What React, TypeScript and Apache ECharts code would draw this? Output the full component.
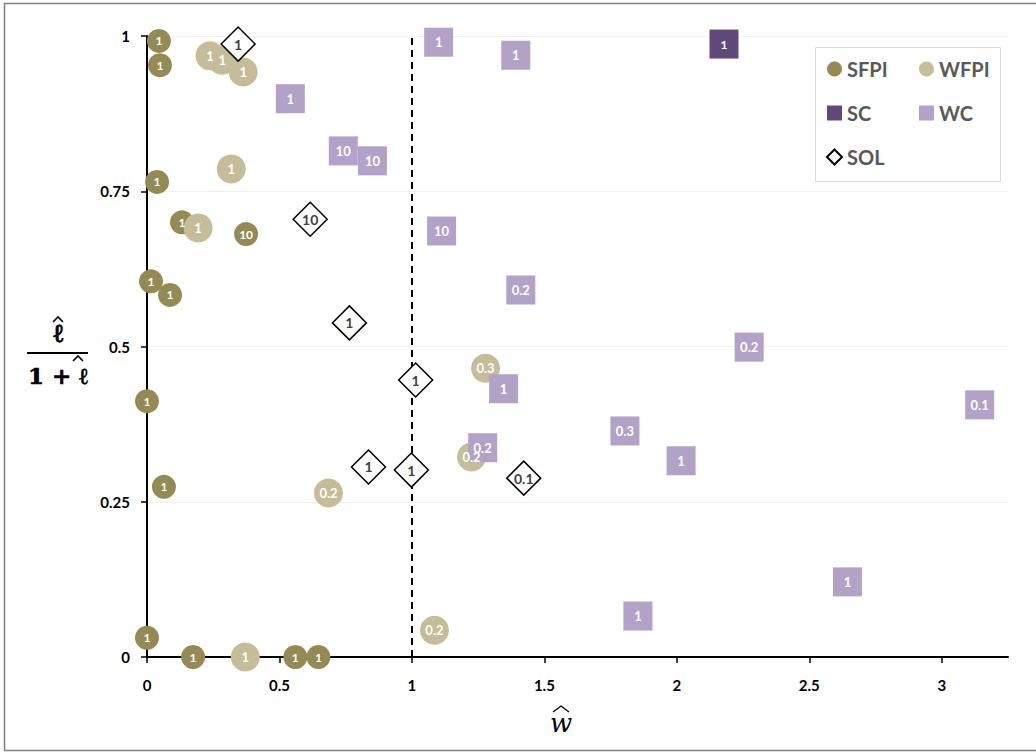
import React, { useEffect, useRef } from "react";
import * as echarts from "echarts";

// [w-hat, l/(1+l), label]
const sfpiPoints: [number, number, string][] = [
  [0.045, 0.992, "1"],
  [0.049, 0.953, "1"],
  [0.038, 0.765, "1"],
  [0.132, 0.7, "1"],
  [0.374, 0.681, "10"],
  [0.015, 0.605, "1"],
  [0.087, 0.583, "1"],
  [0.0, 0.412, "1"],
  [0.064, 0.274, "1"],
  [0.0, 0.031, "1"],
  [0.174, 0.0, "1"],
  [0.56, 0.0, "1"],
  [0.647, 0.0, "1"],
];

const wfpiPoints: [number, number, string][] = [
  [0.238, 0.968, "1"],
  [0.284, 0.961, "1"],
  [0.363, 0.942, "1"],
  [0.318, 0.786, "1"],
  [0.193, 0.691, "1"],
  [0.685, 0.264, "0.2"],
  [0.371, 0.0, "1"],
  [1.278, 0.465, "0.3"],
  [1.225, 0.322, "0.2"],
  [1.085, 0.043, "0.2"],
];

const scPoints: [number, number, string][] = [[2.178, 0.987, "1"]];

const wcPoints: [number, number, string][] = [
  [1.101, 0.99, "1"],
  [1.392, 0.969, "1"],
  [0.541, 0.899, "1"],
  [0.741, 0.815, "10"],
  [0.851, 0.799, "10"],
  [1.112, 0.686, "10"],
  [1.411, 0.591, "0.2"],
  [2.273, 0.499, "0.2"],
  [1.346, 0.432, "1"],
  [1.267, 0.337, "0.2"],
  [1.804, 0.364, "0.3"],
  [2.016, 0.316, "1"],
  [3.143, 0.406, "0.1"],
  [2.644, 0.121, "1"],
  [1.853, 0.066, "1"],
];

const solPoints: [number, number, string][] = [
  [0.344, 0.987, "1"],
  [0.616, 0.705, "10"],
  [0.764, 0.538, "1"],
  [1.014, 0.446, "1"],
  [0.836, 0.306, "1"],
  [0.998, 0.301, "1"],
  [1.422, 0.288, "0.1"],
];

const xTicks = [0, 0.5, 1, 1.5, 2, 2.5, 3];
const yTicks = [0, 0.25, 0.5, 0.75, 1];
const thresholdW = 1;

const FONT = "Lato, 'Open Sans', sans-serif";

function labelCfg(color: string, size = 13) {
  return {
    show: true,
    position: "inside",
    formatter: (p: any) => p.value[2],
    color,
    fontFamily: FONT,
    fontWeight: "bold",
    fontSize: size,
  };
}

export default function App() {
  const ref = useRef<HTMLDivElement>(null);
  useEffect(() => {
    if (!ref.current) return;
    const chart = echarts.init(ref.current, null, { renderer: "svg" });
    const legendText = {
      fontFamily: FONT,
      fontWeight: "bold",
      fontSize: 20,
      color: "#595959",
    };
    chart.setOption({
      animation: false,
      backgroundColor: "#fff",
      grid: { left: 147, right: 28, top: 36, bottom: 97, containLabel: false },
      xAxis: {
        type: "value",
        min: 0,
        max: 3.25,
        interval: 0.5,
        axisLine: { show: true, onZero: false, lineStyle: { color: "#000", width: 2 } },
        axisTick: { show: true, length: 6, customValues: xTicks, lineStyle: { color: "#000", width: 1.5 } },
        axisLabel: {
          customValues: xTicks,
          margin: 20,
          color: "#000",
          fontFamily: FONT,
          fontWeight: "bold",
          fontSize: 15,
        },
        splitLine: { show: false },
      },
      yAxis: {
        type: "value",
        min: 0,
        max: 1,
        interval: 0.25,
        axisLine: { show: true, onZero: false, lineStyle: { color: "#000", width: 2 } },
        axisTick: { show: true, length: 6, customValues: yTicks, lineStyle: { color: "#000", width: 1.5 } },
        axisLabel: {
          customValues: yTicks,
          margin: 17,
          color: "#000",
          fontFamily: FONT,
          fontWeight: "bold",
          fontSize: 15,
        },
        splitLine: { show: true, lineStyle: { color: "#F0F0F0", width: 1 } },
      },
      legend: [
        {
          data: ["SFPI", "SC", "SOL"],
          orient: "vertical",
          left: 826,
          top: 59,
          padding: 0,
          itemGap: 24,
          itemWidth: 15,
          itemHeight: 15,
          textStyle: legendText,
        },
        {
          data: ["WFPI", "WC"],
          orient: "vertical",
          left: 919,
          top: 59,
          padding: 0,
          itemGap: 24,
          itemWidth: 15,
          itemHeight: 15,
          textStyle: legendText,
        },
      ],
      graphic: [
        {
          type: "rect",
          z: -10,
          shape: { x: 4.5, y: 3.5, width: 1040, height: 747 },
          style: { fill: "none", stroke: "#808080", lineWidth: 1.5 },
        },
        {
          type: "rect",
          z: -5,
          shape: { x: 815.5, y: 47.5, width: 185, height: 134 },
          style: { fill: "#fff", stroke: "#D9D9D9", lineWidth: 1 },
        },
        // y-axis title: fraction
        {
          type: "text",
          x: 58,
          y: 333,
          style: {
            text: "ℓ",
            font: "bold 26px 'DejaVu Serif', serif",
            fill: "#000",
            stroke: "#000",
            lineWidth: 0.9,
            align: "center",
            verticalAlign: "middle",
          },
        },
        {
          type: "polyline",
          shape: { points: [[53, 322], [58, 317], [63, 322]] },
          style: { stroke: "#000", lineWidth: 1.6, fill: "none" },
        },
        {
          type: "line",
          shape: { x1: 27, y1: 353, x2: 88, y2: 353 },
          style: { stroke: "#000", lineWidth: 2 },
        },
        {
          type: "text",
          x: 58,
          y: 375,
          style: {
            text: "1 + ℓ",
            font: "bold 23px 'DejaVu Serif', serif",
            fill: "#000",
            stroke: "#000",
            lineWidth: 0.6,
            align: "center",
            verticalAlign: "middle",
          },
        },
        {
          type: "polyline",
          shape: { points: [[73, 361], [78, 356], [83, 361]] },
          style: { stroke: "#000", lineWidth: 1.6, fill: "none" },
        },
        // x-axis title
        {
          type: "text",
          x: 561,
          y: 723,
          style: {
            text: "w",
            font: "italic 26px 'DejaVu Serif', serif",
            fill: "#000",
            align: "center",
            verticalAlign: "middle",
          },
        },
        {
          type: "polyline",
          shape: { points: [[553, 712], [561, 706], [569, 712]] },
          style: { stroke: "#000", lineWidth: 1.3, fill: "none" },
        },
      ],
      series: [
        {
          name: "SFPI",
          type: "scatter",
          clip: false,
          symbol: "circle",
          symbolSize: 24,
          itemStyle: { color: "#948A54", opacity: 1 },
          label: labelCfg("#fff", 12),
          data: sfpiPoints,
          markLine: {
            silent: true,
            z: 1,
            symbol: ["none", "none"],
            label: { show: false },
            lineStyle: { color: "#000", type: [7, 5], width: 2 },
            data: [{ xAxis: thresholdW }],
          },
        },
        {
          name: "WFPI",
          type: "scatter",
          clip: false,
          symbol: "circle",
          symbolSize: 29,
          itemStyle: { color: "#C4BD97", opacity: 1 },
          label: labelCfg("#fff"),
          data: wfpiPoints,
        },
        {
          name: "SC",
          type: "scatter",
          clip: false,
          symbol: "rect",
          symbolSize: 29,
          itemStyle: { color: "#604A7B", opacity: 1 },
          label: labelCfg("#fff", 12),
          data: scPoints,
        },
        {
          name: "WC",
          type: "scatter",
          clip: false,
          symbol: "rect",
          symbolSize: 29,
          itemStyle: { color: "#B3A2C7", opacity: 1 },
          label: labelCfg("#fff"),
          data: wcPoints,
        },
        {
          name: "SOL",
          type: "scatter",
          clip: false,
          z: 3,
          symbol: "diamond",
          symbolSize: 34,
          itemStyle: { color: "#fff", borderColor: "#000", borderWidth: 1.5, opacity: 1 },
          label: labelCfg("#3F3F3F", 14),
          data: solPoints,
        },
      ],
    });
    return () => chart.dispose();
  }, []);
  return (
    <div
      ref={ref}
      style={{ position: "absolute", left: 0, top: 0, width: 1036, height: 754 }}
    />
  );
}
